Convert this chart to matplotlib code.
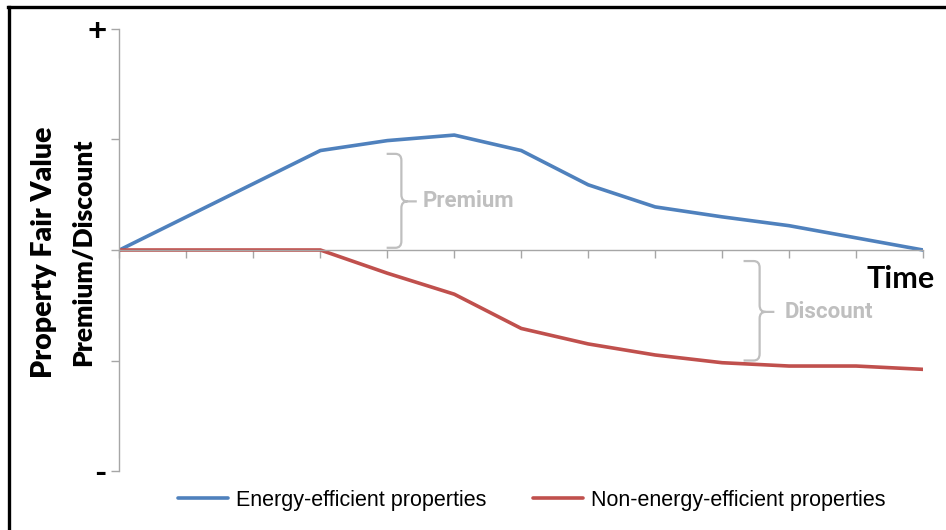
import matplotlib.pyplot as plt
import numpy as np
from matplotlib.path import Path
from matplotlib.patches import PathPatch
from matplotlib.lines import Line2D

# data (time steps 0..12, premium/discount in axis units)
time_steps = list(range(13))
energy_efficient = [0, 0.30, 0.60, 0.90, 0.99, 1.04, 0.90, 0.59, 0.39, 0.30, 0.22, 0.11, 0]
non_energy_efficient = [0, 0, 0, 0, -0.21, -0.40, -0.71, -0.85, -0.95, -1.02, -1.05, -1.05, -1.08]
y_ticks = [-2, -1, 0, 1, 2]
y_tick_labels = ['-', '', '', '', '+']

blue = '#4F81BD'
red = '#C0504D'
grey = '#A6A6A6'
light = '#BFBFBF'

fig = plt.figure(figsize=(9.46, 5.30), dpi=100)
ax = fig.add_axes([0.1263, 0.1113, 0.8494, 0.834])

l1, = ax.plot(time_steps, energy_efficient, color=blue, linewidth=2.6, solid_capstyle='round')
l2, = ax.plot(time_steps, non_energy_efficient, color=red, linewidth=2.6, solid_capstyle='round')

ax.set_xlim(0, 12)
ax.set_ylim(-2, 2)
ax.set_xticks(time_steps)
ax.set_xticklabels([])
ax.set_yticks(y_ticks)
ax.set_yticklabels(y_tick_labels, fontsize=24, fontweight='bold', family=['Lato', 'DejaVu Sans'])

ax.spines['top'].set_visible(False)
ax.spines['right'].set_visible(False)
ax.spines['bottom'].set_position(('data', 0))
for s in ['left', 'bottom']:
    ax.spines[s].set_color(grey)
    ax.spines[s].set_linewidth(1.0)
ax.tick_params(axis='both', color=grey, width=1.0, length=6)
ax.tick_params(axis='y', pad=3)
ax.set_zorder(1)
ax.patch.set_visible(False)


# curly brackets
def bracket(xl, xv, xn, yt, yb, ym):
    rx, ry = 0.09, 0.06
    verts = [(xl, yt), (xv - rx, yt), (xv, yt), (xv, yt - ry),
             (xv, ym + ry), (xv, ym), (xv + rx, ym), (xn, ym),
             (xv + rx, ym), (xv, ym), (xv, ym - ry),
             (xv, yb + ry), (xv, yb), (xv - rx, yb), (xl, yb)]
    codes = [Path.MOVETO, Path.LINETO, Path.CURVE3, Path.CURVE3,
             Path.LINETO, Path.CURVE3, Path.CURVE3, Path.LINETO,
             Path.MOVETO, Path.CURVE3, Path.CURVE3,
             Path.LINETO, Path.CURVE3, Path.CURVE3, Path.LINETO]
    ax.add_patch(PathPatch(Path(verts, codes), facecolor='none', edgecolor=light, linewidth=1.6))


bracket(3.99, 4.21, 4.44, 0.87, 0.02, 0.44)
bracket(9.32, 9.56, 9.78, -0.10, -1.00, -0.56)
ax.text(4.53, 0.44, 'Premium', color=light, fontsize=16, fontweight='bold',
        family='Roboto', va='center', ha='left')
ax.text(9.93, -0.56, 'Discount', color=light, fontsize=16, fontweight='bold',
        family='Roboto', va='center', ha='left')
ax.text(12.18, -0.26, 'Time', color='black', fontsize=22, fontweight='bold',
        family='Lato', va='center', ha='right', clip_on=False)

# y axis title in two lines
fig.text(0.047, 0.525, 'Property Fair Value', rotation=90, fontsize=20.5, fontweight='heavy',
         family='Lato', va='center', ha='center')
fig.text(0.088, 0.525, 'Premium/Discount', rotation=90, fontsize=19, fontweight='heavy',
         family='Lato', va='center', ha='center')

fig.legend(handles=[l1, l2], labels=['Energy-efficient properties', 'Non-energy-efficient properties'],
           loc='center', bbox_to_anchor=(0.562, 0.056), ncol=2, frameon=False,
           prop={'family': ['Liberation Sans', 'DejaVu Sans'], 'size': 15.5},
           handlelength=2.33, handletextpad=0.33, columnspacing=2.2)

# black frame edges at top and left
fig.add_artist(Line2D([0.0085, 1.0], [0.9868, 0.9868], color='black', linewidth=2.4,
                      transform=fig.transFigure))
fig.add_artist(Line2D([0.0095, 0.0095], [0.0, 0.9868], color='black', linewidth=2.4,
                      transform=fig.transFigure))

fig.savefig('out.png', dpi=100)
